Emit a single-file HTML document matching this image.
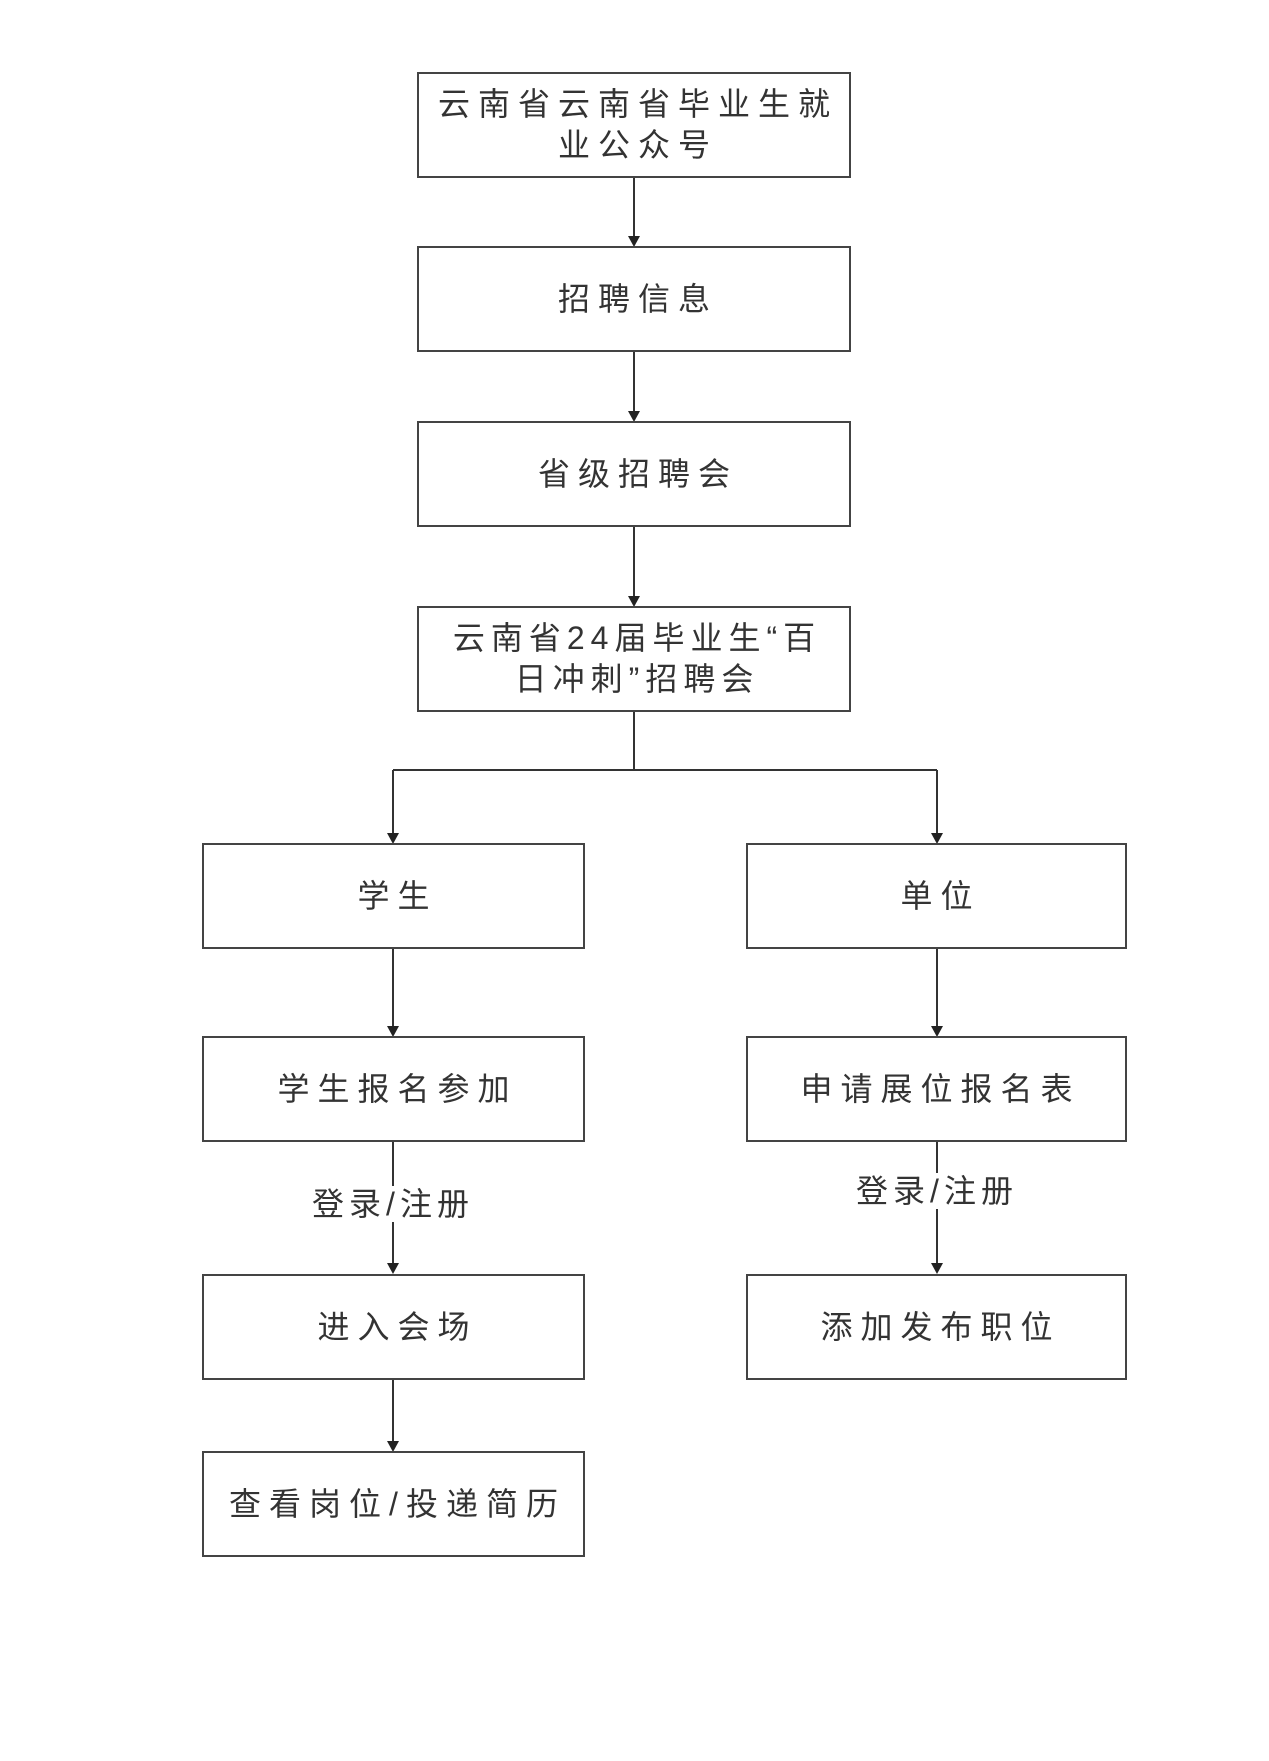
<!DOCTYPE html>
<html><head><meta charset="utf-8"><style>
html,body{margin:0;padding:0;background:#fff;}
body{width:1269px;height:1761px;position:relative;overflow:hidden;font-family:"Liberation Sans","Noto Sans CJK SC",sans-serif;}
.b{position:absolute;box-sizing:border-box;border:2px solid #444;display:flex;align-items:center;justify-content:center;text-align:center;color:#333;font-size:32px;letter-spacing:8px;line-height:41px;}
.b span{padding-left:8px;}
.l{position:absolute;color:#333;font-size:32px;letter-spacing:5px;background:#fff;text-align:center;line-height:36px;}
svg{position:absolute;left:0;top:0;}
</style></head><body>
<svg width="1269" height="1761">
<g stroke="#333" stroke-width="2" fill="none">
<line x1="634" y1="177" x2="634" y2="238"/>
<line x1="634" y1="351" x2="634" y2="413"/>
<line x1="634" y1="526" x2="634" y2="598"/>
<line x1="634" y1="711" x2="634" y2="770"/>
<line x1="393" y1="770" x2="937" y2="770"/>
<line x1="393" y1="770" x2="393" y2="835"/>
<line x1="937" y1="770" x2="937" y2="835"/>
<line x1="393" y1="948" x2="393" y2="1028"/>
<line x1="937" y1="948" x2="937" y2="1028"/>
<line x1="393" y1="1141" x2="393" y2="1265"/>
<line x1="937" y1="1141" x2="937" y2="1265"/>
<line x1="393" y1="1379" x2="393" y2="1443"/>
</g>
<g fill="#222">
<polygon points="628,236 640,236 634,247"/>
<polygon points="628,411 640,411 634,422"/>
<polygon points="628,596 640,596 634,607"/>
<polygon points="387,833 399,833 393,844"/>
<polygon points="931,833 943,833 937,844"/>
<polygon points="387,1026 399,1026 393,1037"/>
<polygon points="931,1026 943,1026 937,1037"/>
<polygon points="387,1263 399,1263 393,1274"/>
<polygon points="931,1263 943,1263 937,1274"/>
<polygon points="387,1441 399,1441 393,1452"/>
</g>
</svg>
<div class="b" style="left:417px;top:72px;width:434px;height:106px;letter-spacing:8px;"><span style="padding-left:8px">云南省云南省毕业生就<br>业公众号</span></div>
<div class="b" style="left:417px;top:246px;width:434px;height:106px;"><span>招聘信息</span></div>
<div class="b" style="left:417px;top:421px;width:434px;height:106px;"><span>省级招聘会</span></div>
<div class="b" style="left:417px;top:606px;width:434px;height:106px;letter-spacing:6px;"><span style="padding-left:6px">云南省24届毕业生“百<br>日冲刺”招聘会</span></div>
<div class="b" style="left:202px;top:843px;width:383px;height:106px;"><span>学生</span></div>
<div class="b" style="left:746px;top:843px;width:381px;height:106px;"><span>单位</span></div>
<div class="b" style="left:202px;top:1036px;width:383px;height:106px;"><span>学生报名参加</span></div>
<div class="b" style="left:746px;top:1036px;width:381px;height:106px;"><span>申请展位报名表</span></div>
<div class="b" style="left:202px;top:1274px;width:383px;height:106px;"><span>进入会场</span></div>
<div class="b" style="left:746px;top:1274px;width:381px;height:106px;"><span>添加发布职位</span></div>
<div class="b" style="left:202px;top:1451px;width:383px;height:106px;"><span>查看岗位/投递简历</span></div>
<div class="l" style="left:303px;top:1186px;width:180px;">登录/注册</div>
<div class="l" style="left:847px;top:1173px;width:180px;">登录/注册</div>
</body></html>
